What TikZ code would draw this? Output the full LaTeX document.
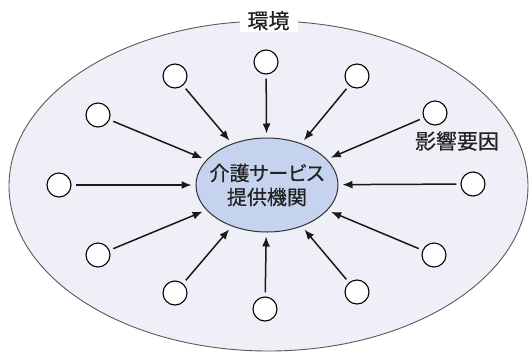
\documentclass[tikz,border=0pt]{standalone}
\usepackage{fontspec}
\setmainfont[FakeBold=0.5]{Noto Sans CJK JP}
\newfontfamily\jpp[RawFeature=+palt,FakeBold=0.5]{Noto Sans CJK JP}
\usetikzlibrary{arrows.meta,shapes.geometric}
\definecolor{envfill}{HTML}{EFF0F7}
\definecolor{corefill}{HTML}{C6D3EE}
\definecolor{txt}{HTML}{222222}
\tikzset{
  factor/.style={draw=black, circle, fill=white, minimum size=24pt, inner sep=0pt, line width=1.1pt},
  infl/.style={draw=black!90, line width=1.5pt, -{Latex[length=10pt,width=8pt]}, shorten >=4pt, shorten <=4pt},
  lbl/.style={text=txt, font=\fontsize{21}{24}\selectfont, inner sep=0pt}
}
\begin{document}
\begin{tikzpicture}[x=1pt,y=-1pt]
\useasboundingbox (0,0) rectangle (531,354);
\node[draw=black!65, ellipse, fill=envfill, line width=0.9pt, minimum width=519pt, minimum height=330pt, inner sep=0pt] (env) at (268.5,186) {};
\node[lbl, fill=white, inner xsep=8pt, inner ysep=2pt] (envlbl) at (env.north) {環境};
\node[draw=black!80, ellipse, fill=corefill, line width=1pt, minimum width=142pt, minimum height=94pt, lbl, font=\fontsize{20}{24}\selectfont, inner xsep=-25pt, inner ysep=-12pt, align=center] (core) at (267,185) {{\jpp 介護サービス}\\提供機関};
\node[factor] (c1) at (266,62) {};
\node[factor] (c2) at (175,76) {};
\node[factor] (c3) at (357,76) {};
\node[factor] (c4) at (98,115) {};
\node[factor] (c5) at (435,113) {};
\node[factor] (c6) at (59,185) {};
\node[factor] (c7) at (473,184) {};
\node[factor] (c8) at (98,255) {};
\node[factor] (c9) at (434,255) {};
\node[factor] (c10) at (175,293) {};
\node[factor] (c11) at (357,292) {};
\node[factor] (c12) at (265,309) {};
\node[lbl] (inflbl) at (457,141) {影響要因};
\foreach \i in {1,...,12} { \draw[infl] (c\i) -- (core); }
\end{tikzpicture}
\end{document}
